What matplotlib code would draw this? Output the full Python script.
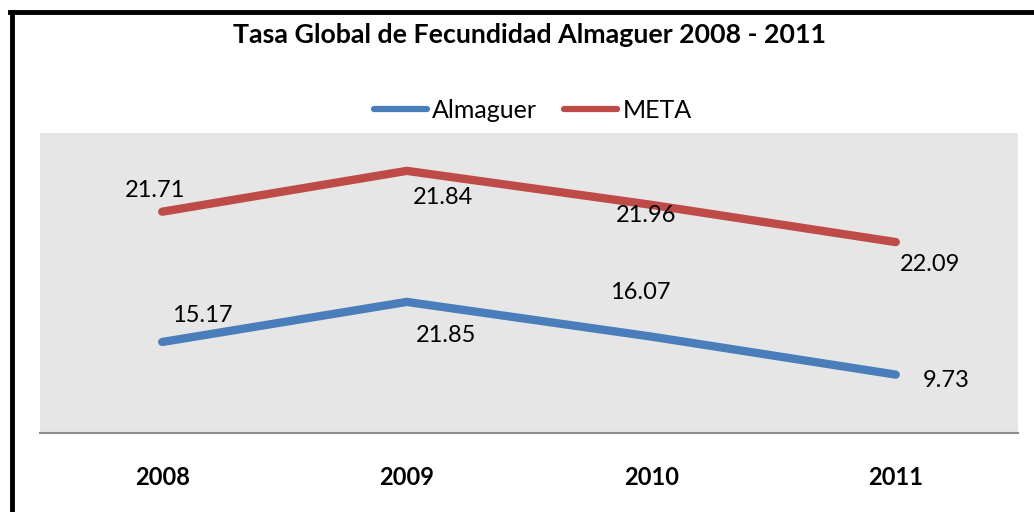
import matplotlib
matplotlib.use("Agg")
import matplotlib.pyplot as plt
from matplotlib.lines import Line2D
import numpy as np

plt.rcParams['font.family'] = ['Lato', 'DejaVu Sans']

# data (stacked line chart: META drawn on top of Almaguer)
years = ["2008", "2009", "2010", "2011"]
almaguer = [15.17, 21.85, 16.07, 9.73]
meta = [21.71, 21.84, 21.96, 22.09]

blue = "#4a7ebb"
red = "#be4b48"

fig = plt.figure(figsize=(10.34, 5.12), dpi=100)
ax = fig.add_axes([40/1034, 1-433/512, 978/1034, 300/512])
ax.set_facecolor("#e6e6e6")

x = np.arange(len(years))
stack = np.array(almaguer) + np.array(meta)

ax.plot(x, almaguer, color=blue, lw=6, solid_capstyle="round", solid_joinstyle="miter", label="Almaguer")
ax.plot(x, stack, color=red, lw=6, solid_capstyle="round", solid_joinstyle="miter", label="META")

ax.set_xlim(-0.5, 3.5)
ax.set_ylim(0, 50)
ax.set_yticks([])
ax.set_xticks(x)
ax.set_xticklabels(years, fontsize=17, fontweight="bold")
ax.tick_params(axis="x", length=0, pad=24)
for s in ["top", "left", "right"]:
    ax.spines[s].set_visible(False)
ax.spines["bottom"].set_color("#8c8c8c")
ax.spines["bottom"].set_linewidth(1.5)

# label offsets (points) as placed in the original
off_meta = [(-5, 15), (26, -19), (-4, -8), (25, -16)]
off_alm = [(29, 19), (28, -24), (-8, 32), (36, -4)]
for i in range(len(years)):
    ax.annotate(f"{meta[i]:.2f}", (x[i], stack[i]), xytext=off_meta[i], textcoords="offset points",
                ha="center", va="center", fontsize=17)
    ax.annotate(f"{almaguer[i]:.2f}", (x[i], almaguer[i]), xytext=off_alm[i], textcoords="offset points",
                ha="center", va="center", fontsize=17)

fig.text(0.512, 1-35/512, "Tasa Global de Fecundidad Almaguer 2008 - 2011", ha="center", va="center",
         fontsize=19.3, fontweight="bold")

leg = fig.legend(loc="center", bbox_to_anchor=(0.515, 1-110/512), ncol=2, frameon=False,
                 fontsize=18, handlelength=2.15, handletextpad=0.2, columnspacing=1.05)
for h in leg.get_lines():
    h.set_linewidth(4.5)

# outer frame (only left and top edges are in view)
fig.add_artist(Line2D([12/1034, 12/1034], [0, 1-12/512], color="black", lw=3.5, transform=fig.transFigure))
fig.add_artist(Line2D([10/1034, 1], [1-12/512, 1-12/512], color="black", lw=3.5, transform=fig.transFigure))

fig.savefig("out.png", dpi=100)
